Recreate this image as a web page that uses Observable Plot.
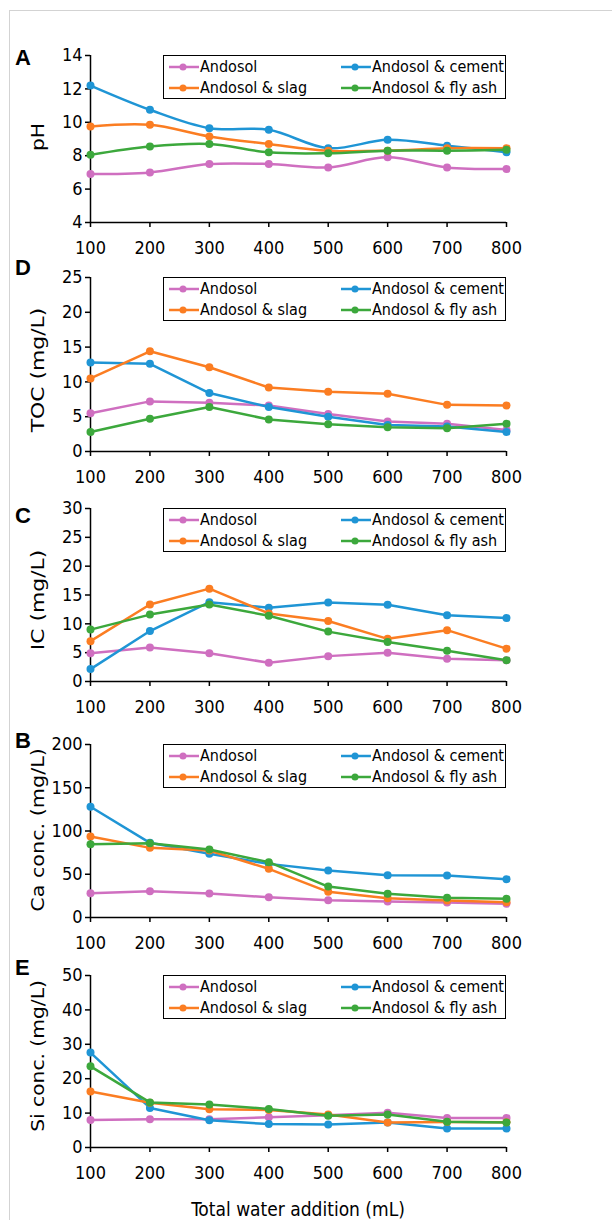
<!DOCTYPE html>
<html><head><meta charset="utf-8">
<script src="https://cdn.jsdelivr.net/npm/d3@7"></script>
<script src="https://cdn.jsdelivr.net/npm/@observablehq/plot@0.6"></script>
<style>
body{margin:0;background:#fff;}
#root{position:relative;width:612px;height:1220px;overflow:hidden;font-family:"DejaVu Sans Condensed","DejaVu Sans",sans-serif;color:#000;}
#frame{position:absolute;left:9px;top:10px;width:620px;height:1240px;border-left:1.5px solid #d3d3d3;border-top:1.5px solid #d3d3d3;}
.panel{position:absolute;left:0;}
.letter{position:absolute;left:15px;font-family:"Liberation Sans",Arial,sans-serif;font-weight:bold;font-size:22px;line-height:1;}
.legend{position:absolute;left:163px;width:343px;height:44px;border:1.5px solid #000;background:#fff;box-sizing:border-box;font-size:16px;}
.item{position:absolute;height:18px;display:flex;align-items:center;white-space:nowrap;line-height:18px;}
.item svg{margin-right:1px;}
.ytitle{position:absolute;width:300px;height:24px;line-height:24px;text-align:center;font-size:18px;white-space:nowrap;transform-origin:50% 50%;}
#xtitle{position:absolute;left:98px;width:400px;text-align:center;top:1197px;height:24px;line-height:24px;font-size:19px;}
</style></head><body><div id="root"><div id="frame"></div></div>
<script>
const xValues = [100, 200, 300, 400, 500, 600, 700, 800];
const seriesNames = ["Andosol", "Andosol & cement", "Andosol & slag", "Andosol & fly ash"];
const seriesColors = ["#cf6fc0", "#1f95d5", "#fb7d22", "#3ca83c"];

const phAndosol = [6.9, 7.0, 7.5, 7.5, 7.3, 7.9, 7.3, 7.2];
const phCement  = [12.2, 10.75, 9.65, 9.55, 8.45, 8.95, 8.6, 8.2];
const phSlag    = [9.75, 9.85, 9.15, 8.7, 8.3, 8.3, 8.45, 8.45];
const phFlyAsh  = [8.05, 8.55, 8.7, 8.2, 8.15, 8.3, 8.3, 8.35];

const tocAndosol = [5.5, 7.2, 7.0, 6.6, 5.4, 4.3, 4.0, 3.1];
const tocCement  = [12.8, 12.6, 8.4, 6.4, 5.0, 3.8, 3.6, 2.8];
const tocSlag    = [10.5, 14.4, 12.1, 9.2, 8.6, 8.3, 6.7, 6.6];
const tocFlyAsh  = [2.8, 4.7, 6.4, 4.6, 3.9, 3.5, 3.35, 4.0];

const icAndosol = [4.9, 5.9, 4.9, 3.25, 4.4, 5.0, 3.95, 3.7];
const icCement  = [2.15, 8.75, 13.75, 12.8, 13.7, 13.3, 11.5, 11.0];
const icSlag    = [7.0, 13.35, 16.1, 11.8, 10.5, 7.4, 8.9, 5.7];
const icFlyAsh  = [9.0, 11.6, 13.35, 11.4, 8.65, 6.85, 5.35, 3.7];

const caAndosol = [28, 30.4, 27.7, 23.5, 20, 18.5, 17.3, 15.8];
const caCement  = [128, 86.3, 73.6, 62, 54.3, 48.9, 48.5, 44.3];
const caSlag    = [93.6, 80.5, 77.5, 56.3, 29.7, 22.3, 19.6, 17.7];
const caFlyAsh  = [84.8, 85.9, 78.6, 64, 35.8, 27.4, 22.7, 21.6];

const siAndosol = [8.0, 8.2, 8.2, 8.8, 9.4, 10.1, 8.6, 8.6];
const siCement  = [27.6, 11.5, 7.9, 6.8, 6.7, 7.3, 5.5, 5.5];
const siSlag    = [16.3, 13.0, 11.1, 10.9, 9.6, 7.3, 7.4, 7.35];
const siFlyAsh  = [23.6, 13.1, 12.5, 11.2, 9.2, 9.6, 7.5, 7.25];

const panelLetters = ["A", "D", "C", "B", "E"];
const panelYLabels = ["pH", "TOC (mg/L)", "IC (mg/L)", "Ca conc. (mg/L)", "Si conc. (mg/L)"];
const panelYDomains = [[4, 14], [0, 25], [0, 30], [0, 200], [0, 50]];
const panelYTicks = [[4, 6, 8, 10, 12, 14], [0, 5, 10, 15, 20, 25], [0, 5, 10, 15, 20, 25, 30], [0, 50, 100, 150, 200], [0, 10, 20, 30, 40, 50]];
const panelSeries = [
  [phAndosol, phCement, phSlag, phFlyAsh],
  [tocAndosol, tocCement, tocSlag, tocFlyAsh],
  [icAndosol, icCement, icSlag, icFlyAsh],
  [caAndosol, caCement, caSlag, caFlyAsh],
  [siAndosol, siCement, siSlag, siFlyAsh]
];
const xTitle = "Total water addition (mL)";

// layout
const svgTops = [45, 267, 498, 734, 965];
const plotHeights = [167, 174, 173, 173, 172];
const letterTops = [47, 257, 505, 730, 957];
const yTitleCenters = [137, 370, 600, 830, 1056];
const yTitleStretch = [1.25, 1.35, 1.35, 1.28, 1.25];
const curves = ["catmull-rom", "linear", "linear", "linear", "linear"];
const MT = 10, MB = 40, ML = 90, MR = 106;

const root = document.getElementById("root");

panelLetters.forEach((letter, p) => {
  const rows = [];
  panelSeries[p].forEach((vals, s) => vals.forEach((v, i) => rows.push({x: xValues[i], y: vals[i], s})));
  const marks = [];
  seriesNames.forEach((name, s) => {
    const d = rows.filter(r => r.s === s);
    marks.push(Plot.line(d, {x: "x", y: "y", stroke: seriesColors[s], strokeWidth: 2.5, curve: curves[p]}));
    marks.push(Plot.dot(d, {x: "x", y: "y", fill: seriesColors[s], r: 4}));
  });
  const chart = Plot.plot({
    width: 612,
    height: MT + plotHeights[p] + MB,
    marginTop: MT, marginBottom: MB, marginLeft: ML, marginRight: MR,
    style: {fontFamily: '"DejaVu Sans Condensed","DejaVu Sans",sans-serif', fontSize: "18px", color: "#000", background: "transparent", overflow: "visible"},
    x: {domain: [100, 800]},
    y: {domain: panelYDomains[p]},
    marks: [
      Plot.axisX({ticks: xValues, tickSize: 5, tickPadding: 14, strokeWidth: 1.5, label: null, tickFormat: d => String(d)}),
      Plot.axisY({ticks: panelYTicks[p], tickSize: 5, tickPadding: 3, strokeWidth: 1.5, label: null, tickFormat: d => String(d)}),
      Plot.ruleX([100], {stroke: "#000", strokeWidth: 1.5}),
      Plot.ruleY([panelYDomains[p][0]], {stroke: "#000", strokeWidth: 1.5}),
      ...marks
    ]
  });
  const wrap = document.createElement("div");
  wrap.className = "panel";
  wrap.style.top = svgTops[p] + "px";
  wrap.appendChild(chart);
  root.appendChild(wrap);

  // y title
  const yt = document.createElement("div");
  yt.className = "ytitle";
  yt.style.left = (38 - 150) + "px";
  yt.style.top = (yTitleCenters[p] - 12) + "px";
  yt.style.transform = `rotate(-90deg) scaleX(${yTitleStretch[p]})`;
  yt.textContent = panelYLabels[p];
  root.appendChild(yt);

  // legend
  const leg = document.createElement("div");
  leg.className = "legend";
  leg.style.top = (svgTops[p] + MT) + "px";
  const order = [[0, 0, 0], [1, 1, 0], [2, 0, 1], [3, 1, 1]];
  order.forEach(([s, col, row]) => {
    const it = document.createElement("div");
    it.className = "item";
    it.style.left = (col === 0 ? 5 : 177) + "px";
    it.style.top = (row === 0 ? 1.5 : 23) + "px";
    const c = seriesColors[s];
    it.innerHTML = `<svg width="30" height="10"><line x1="0" y1="5" x2="30" y2="5" stroke="${c}" stroke-width="2.5"/><circle cx="14" cy="5" r="3.5" fill="${c}"/></svg><span>${seriesNames[s].replace(/&/g, "&amp;")}</span>`;
    leg.appendChild(it);
  });
  root.appendChild(leg);

  const lt = document.createElement("div");
  lt.className = "letter";
  lt.style.top = letterTops[p] + "px";
  lt.textContent = letter;
  root.appendChild(lt);
});

const xt = document.createElement("div");
xt.id = "xtitle";
xt.textContent = xTitle;
root.appendChild(xt);
</script>
</body></html>
